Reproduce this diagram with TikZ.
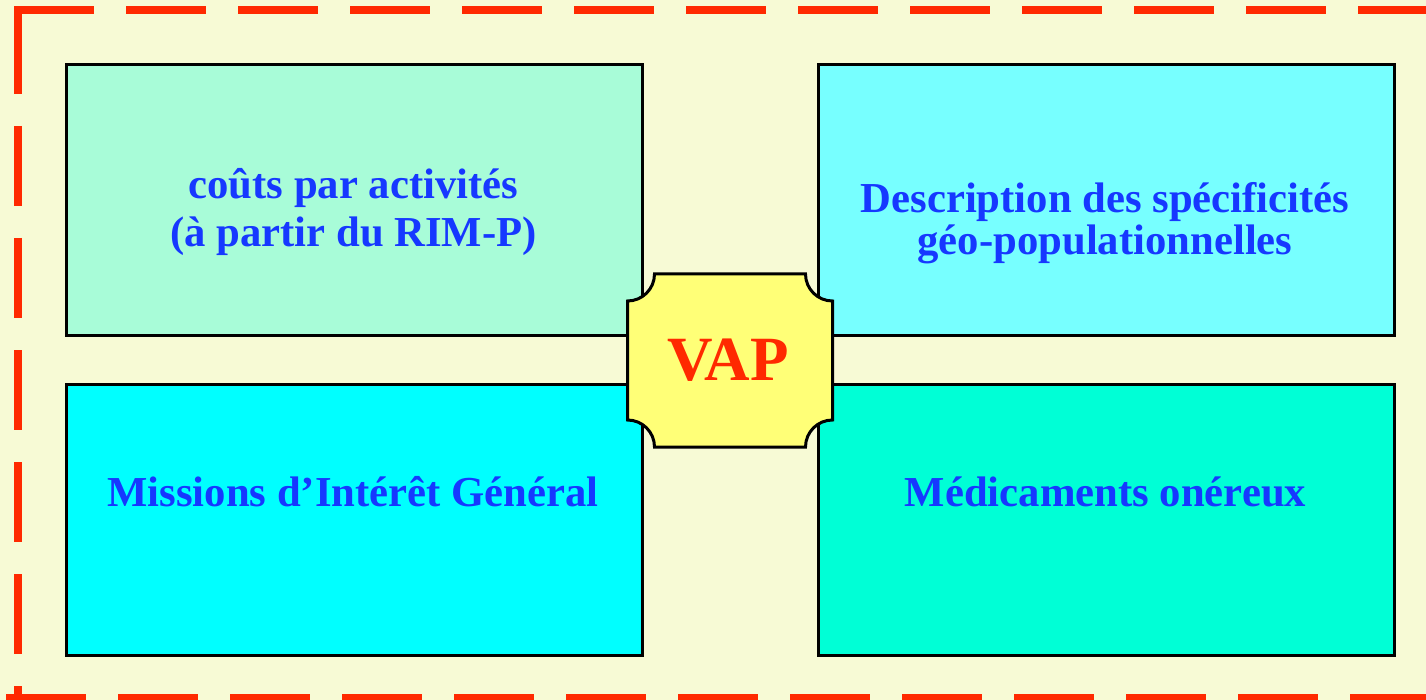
\documentclass[tikz,border=0pt]{standalone}
\usepackage{fontspec}
\setmainfont{Liberation Serif}
\definecolor{bgc}{RGB}{247,250,213}
\definecolor{redc}{RGB}{255,41,0}
\definecolor{bluec}{RGB}{22,56,255}
\definecolor{ctl}{RGB}{168,252,216}
\definecolor{ctr}{RGB}{119,255,255}
\definecolor{cbl}{RGB}{0,255,255}
\definecolor{cbr}{RGB}{0,255,214}
\definecolor{cvap}{RGB}{255,255,119}
\tikzset{
  box/.style={draw=black, line width=3pt, rectangle, inner sep=0pt},
  boxtext/.style={text=bluec, align=center, anchor=base, inner sep=0pt},
  frameline/.style={draw=redc, line width=8pt, dash pattern=on 80pt off 32pt},
}
\begin{document}
\begin{tikzpicture}[x=1pt,y=-1pt]
\clip (0,0) rectangle (1426,700);
\fill[bgc] (0,0) rectangle (1426,700);
% boxes
\node[box, fill=ctl, minimum width=576pt, minimum height=271.5pt] (tl) at (354,200.25) {};
\node[box, fill=ctr, minimum width=575.5pt, minimum height=271.5pt] (tr) at (1106.25,200.25) {};
\node[box, fill=cbl, minimum width=576pt, minimum height=271.5pt] (bl) at (354,519.75) {};
\node[box, fill=cbr, minimum width=575.5pt, minimum height=271.5pt] (br) at (1106.25,519.75) {};
% texts (base anchor = baseline of the last line)
\node[boxtext, font={\fontsize{42.7}{48}\selectfont\bfseries}] (tltext) at (353.5,247) {coûts par activités\\(à partir du RIM-P)};
\node[boxtext, font={\fontsize{42.7}{42.3}\selectfont\bfseries}] (trtext) at (1105,255) {Description des spécificités\\géo-populationnelles};
\node[boxtext, font={\fontsize{42.7}{48}\selectfont\bfseries}] (bltext) at (353,506) {Missions d’Intérêt Général};
\node[boxtext, font={\fontsize{42.7}{48}\selectfont\bfseries}] (brtext) at (1105.5,506) {Médicaments onéreux};
% VAP shape
\draw[line width=3pt, fill=cvap, line join=miter]
  (654.5,274) -- (805.5,274) .. controls (805.5,288.9) and (817.6,301) .. (832.5,301)
  -- (832.5,420) .. controls (817.6,420) and (805.5,432.1) .. (805.5,447)
  -- (654.5,447) .. controls (654.5,432.1) and (642.4,420) .. (627.5,420)
  -- (627.5,301) .. controls (642.4,301) and (654.5,288.9) .. (654.5,274) -- cycle;
\node[text=redc, anchor=base, inner sep=0pt, font={\fontsize{63}{70}\selectfont\bfseries}] (vap) at (728,380) {VAP};
% dashed frame
\draw[frameline] (14,10) -- (1440,10);
\draw[frameline] (18,14) -- (18,720);
\draw[frameline] (6,698) -- (1440,698);
\end{tikzpicture}
\end{document}
